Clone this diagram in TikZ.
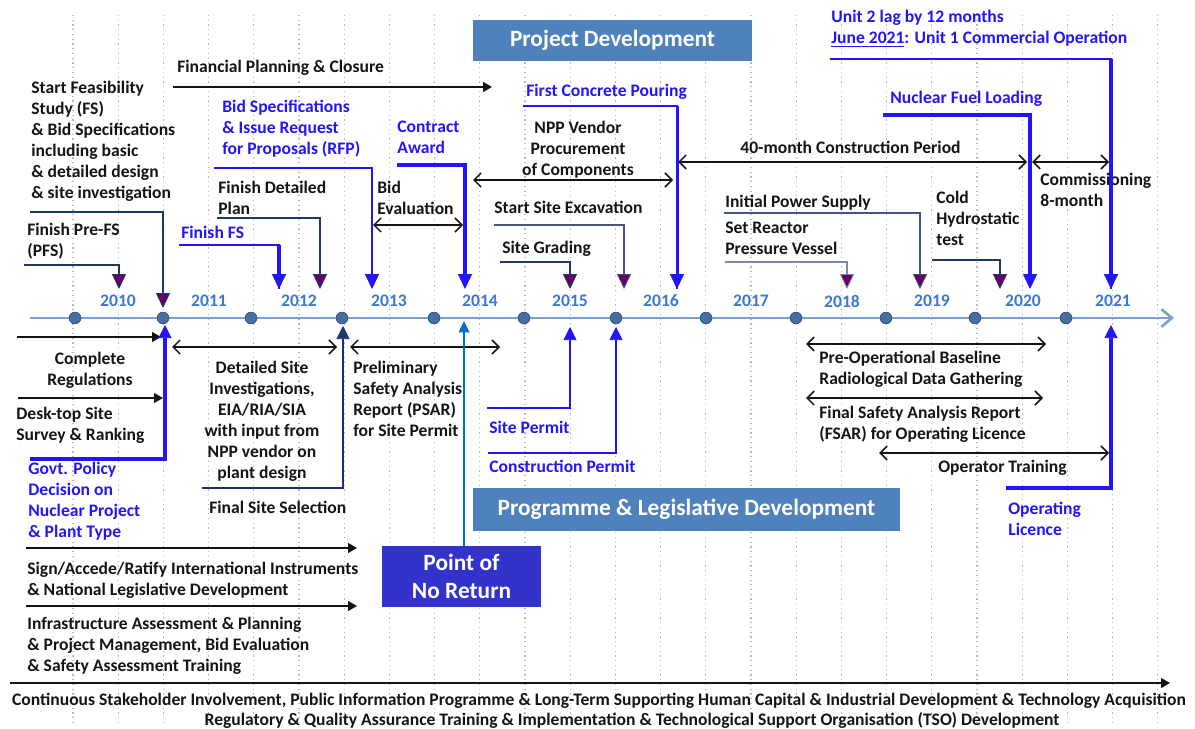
\documentclass[tikz,border=0pt]{standalone}
\usepackage{fontspec}
\setmainfont{Carlito}
\usetikzlibrary{arrows.meta}

\definecolor{ink}{RGB}{20,20,20}
\definecolor{mblue}{RGB}{35,20,250}
\definecolor{yearblue}{RGB}{60,120,210}
\definecolor{navy}{RGB}{31,56,100}
\definecolor{slate}{RGB}{70,85,130}
\definecolor{plum}{RGB}{102,0,102}
\definecolor{steel}{RGB}{79,129,189}
\definecolor{royal}{RGB}{51,51,204}
\definecolor{axisblue}{RGB}{120,160,210}
\definecolor{dotblue}{RGB}{70,110,160}
\definecolor{gridgray}{RGB}{185,185,185}
\definecolor{ponr}{RGB}{0,112,192}

\begin{document}
\begin{tikzpicture}[x=0.02cm, y=-0.02cm,
    txt/.style={font=\bfseries\fontsize{10}{11.9}\selectfont, inner sep=0pt, align=left, anchor=north west, text=ink},
    btxt/.style={txt, text=mblue},
    ctxt/.style={txt, align=center, anchor=north},
    yr/.style={font=\bfseries\fontsize{10}{12}\selectfont, text=yearblue, inner sep=0pt},
    banner/.style={fill=steel, text=white, font=\bfseries\fontsize{13.3}{16}\selectfont, inner sep=0pt, align=center},
    gridline/.style={draw=gridgray, dotted, line width=0.7pt},
    navyline/.style={draw=navy, line width=0.85pt},
    slateline/.style={draw=slate, line width=0.85pt},
    blueline/.style={draw=mblue, line width=#1},
    milestone/.style={-{Triangle[width=8pt,length=8.5pt,fill=#1,line width=0.5pt]}},
    upmark/.style={-{Triangle[width=7.5pt,length=7.5pt,fill=#1,line width=0.5pt]}},
    push/.style={draw=ink, line width=0.9pt, -{Triangle[width=5.5pt,length=5pt]}},
    span/.style={draw=ink, line width=0.9pt, {Straight Barb[width=8pt,length=4pt]}-{Straight Barb[width=8pt,length=4pt]}}]
    \useasboundingbox (0,0) rectangle (1195,729);

    \foreach \i in {0,...,24}
        \draw[gridline] ({73+45.2*\i},15) -- ({73+45.2*\i},722);

    \coordinate (axisL) at (30,318);
    \coordinate (axisR) at (1174,318);
    \draw[draw=axisblue, line width=1.5pt, -{Straight Barb[width=10pt,length=6pt]}] (axisL) -- (axisR);
    \foreach \x in {75,163,251,342,434,524,616,706,796,886,975,1066}
        \filldraw[fill=dotblue, draw=dotblue!80!black, line width=0.5pt] (\x,318) circle (3.3pt);
    \foreach \x/\yy in {118/2010,209/2011,299/2012,389/2013,480/2014,570/2015,661/2016,751/2017,842/2018,932/2019,1023/2020,1113/2021}
        \node[yr] (yr\yy) at (\x,301) {\yy};

    \node[banner, minimum width=5.58cm, minimum height=0.82cm] (projdev) at (612.5,40.5) {Project Development};
    \node[banner, minimum width=8.54cm, minimum height=0.86cm] (progdev) at (686.5,509.5) {Programme \& Legislative Development};
    \node[banner, fill=royal, minimum width=3.18cm, minimum height=1.22cm] (noreturn) at (461.5,576.5) {Point of\\No Return};

    \node[txt] (finplan) at (177,60) {Financial Planning \& Closure};
    \node[txt] (startfs) at (31,81) {Start Feasibility\\Study (FS)\\\& Bid Specifications\\including basic\\\& detailed design\\\& site investigation};
    \node[txt] (prefs) at (27,223) {Finish Pre-FS\\(PFS)};
    \node[btxt] (finfs) at (181,226) {Finish FS};
    \node[txt] (detplan) at (218,181) {Finish Detailed\\Plan};
    \node[btxt] (bidspec) at (222,100) {Bid Specifications\\\& Issue Request\\for Proposals (RFP)};
    \node[txt] (bideval) at (377,181) {Bid\\Evaluation};
    \node[btxt] (contract) at (397,121) {Contract\\Award};
    \node[ctxt] (vendor) at (578,121) {NPP Vendor\\Procurement\\of Components};
    \node[btxt] (concrete) at (526,84) {First Concrete Pouring};
    \node[txt] (excav) at (494,201) {Start Site Excavation};
    \node[txt] (grading) at (502,241) {Site Grading};
    \node[txt] (constr) at (740,141) {40-month Construction Period};
    \node[txt] (commis) at (1040,173) {Commissioning\\8-month};
    \node[txt] (power) at (725,195) {Initial Power Supply};
    \node[txt] (rpv) at (725,222) {Set Reactor\\Pressure Vessel};
    \node[txt] (cold) at (936,191) {Cold\\Hydrostatic\\test};
    \node[btxt] (fuel) at (890,91) {Nuclear Fuel Loading};
    \node[btxt] (unitop) at (831,10) {Unit 2 lag by 12 months\\\underline{June 2021}: Unit 1 Commercial Operation};

    \node[ctxt] (complete) at (90,352) {Complete\\Regulations};
    \node[txt] (desktop) at (16,407) {Desk-top Site\\Survey \& Ranking};
    \node[btxt] (govt) at (28,462) {Govt. Policy\\Decision on\\Nuclear Project\\\& Plant Type};
    \node[ctxt] (detsite) at (262,361) {Detailed Site\\Investigations,\\EIA/RIA/SIA\\with input from\\NPP vendor on\\plant design};
    \node[txt] (finalsite) at (209,501) {Final Site Selection};
    \node[txt] (psar) at (353,361) {Preliminary\\Safety Analysis\\Report (PSAR)\\for Site Permit};
    \node[btxt] (sitepermit) at (489,421) {Site Permit};
    \node[btxt] (conpermit) at (489,460) {Construction Permit};
    \node[txt] (baseline) at (819,351) {Pre-Operational Baseline\\Radiological Data Gathering};
    \node[txt] (fsar) at (819,406) {Final Safety Analysis Report\\(FSAR) for Operating Licence};
    \node[txt] (optrain) at (938,460) {Operator Training};
    \node[btxt] (oplic) at (1008,502) {Operating\\Licence};
    \node[txt] (treaty) at (27,562) {Sign/Accede/Ratify International Instruments\\\& National Legislative Development};
    \node[txt] (infra) at (27,617) {Infrastructure Assessment \& Planning\\\& Project Management, Bid Evaluation\\\& Safety Assessment Training};
    \node[ctxt] (stake) at (599,693) {Continuous Stakeholder Involvement, Public Information Programme \& Long-Term Supporting Human Capital \& Industrial Development \& Technology Acquisition};
    \node[ctxt] (tso) at (632,712) {Regulatory \& Quality Assurance Training \& Implementation \& Technological Support Organisation (TSO) Development};

    \coordinate (finL) at (173,87);   \coordinate (finR) at (492,87);
    \coordinate (sfsS) at (30,212);   \coordinate (sfsT) at (163,308);
    \coordinate (pfsS) at (24,265);   \coordinate (pfsT) at (119,289);
    \coordinate (ffsS) at (179,245);  \coordinate (ffsT) at (279,289);
    \coordinate (dplS) at (217,218);  \coordinate (dplT) at (320,289);
    \coordinate (rfpS) at (214,168);  \coordinate (rfpT) at (372,289);
    \coordinate (bevL) at (373,225);  \coordinate (bevR) at (463,225);
    \coordinate (conS) at (397,165);  \coordinate (conT) at (465,289);
    \coordinate (venL) at (473,180);  \coordinate (venR) at (673,180);
    \coordinate (fcpS) at (523,106);  \coordinate (fcpT) at (677,289);
    \coordinate (excS) at (494,225);  \coordinate (excT) at (624,289);
    \coordinate (grdS) at (500,262);  \coordinate (grdT) at (570,289);
    \coordinate (cnsL) at (678,162);  \coordinate (cnsR) at (1027,162);
    \coordinate (comL) at (1032,162); \coordinate (comR) at (1109,162);
    \coordinate (ipsS) at (724,213);  \coordinate (ipsT) at (920,289);
    \coordinate (rpvS) at (725,262);  \coordinate (rpvT) at (847,289);
    \coordinate (chtS) at (932,260);  \coordinate (chtT) at (1000,289);
    \coordinate (nflS) at (883,115);  \coordinate (nflT) at (1030,289);
    \coordinate (uopS) at (830,59);   \coordinate (uopT) at (1111,289);

    \draw[push] (finL) -- (finR);
    \draw[navyline, milestone=plum] (sfsS) -| (sfsT);
    \draw[navyline, milestone=plum] (pfsS) -| (pfsT);
    \draw[blueline=1.4pt] (ffsS) -| (ffsT);
    \draw[blueline=2.3pt, milestone=mblue] (ffsT |- ffsS) -- (ffsT);
    \draw[navyline, milestone=plum] (dplS) -| (dplT);
    \draw[blueline=1.1pt, milestone=mblue] (rfpS) -| (rfpT);
    \draw[span] (bevL) -- (bevR);
    \draw[blueline=1.8pt, milestone=mblue] (conS) -| (conT);
    \draw[span] (venL) -- (venR);
    \draw[blueline=0.9pt] (fcpS) -| (fcpT);
    \draw[blueline=1.7pt, milestone=mblue] (fcpT |- fcpS) -- (fcpT);
    \draw[slateline, milestone=plum] (excS) -| (excT);
    \draw[navyline, milestone=plum] (grdS) -| (grdT);
    \draw[span] (cnsL) -- (cnsR);
    \draw[span] (comL) -- (comR);
    \draw[slateline, milestone=plum] (ipsS) -| (ipsT);
    \draw[slateline, draw=slate!70, milestone=plum] (rpvS) -| (rpvT);
    \draw[navyline, milestone=plum] (chtS) -| (chtT);
    \draw[blueline=1.8pt, milestone=mblue] (nflS) -| (nflT);
    \draw[blueline=0.9pt] (uopS) -| (uopT);
    \draw[blueline=1.8pt, milestone=mblue] (uopT |- uopS) -- (uopT);

    \coordinate (crgL) at (17,337);   \coordinate (crgR) at (161,337);
    \coordinate (dtsL) at (18,398);   \coordinate (dtsR) at (163,398);
    \coordinate (gpdS) at (30,459);   \coordinate (gpdT) at (165,325);
    \coordinate (dsiL) at (172,347);  \coordinate (dsiR) at (337,347);
    \coordinate (fssS) at (202,488);  \coordinate (fssT) at (343,326);
    \coordinate (psaL) at (350,347);  \coordinate (psaR) at (500,347);
    \coordinate (pnrT) at (464,321);
    \coordinate (sprS) at (487,408);  \coordinate (sprT) at (570,327);
    \coordinate (cprS) at (488,453);  \coordinate (cprT) at (616,327);
    \coordinate (pobL) at (806,344);  \coordinate (pobR) at (1046,344);
    \coordinate (fsaL) at (806,398);  \coordinate (fsaR) at (1043,398);
    \coordinate (optL) at (879,453);  \coordinate (optR) at (1109,453);
    \coordinate (olcS) at (1006,488); \coordinate (olcT) at (1111,325);
    \coordinate (trtL) at (26,548);   \coordinate (trtR) at (357,548);
    \coordinate (infL) at (26,606);   \coordinate (infR) at (357,606);
    \coordinate (stkL) at (10,683);   \coordinate (stkR) at (1170,683);

    \draw[push] (crgL) -- (crgR);
    \draw[push] (dtsL) -- (dtsR);
    \draw[blueline=1.8pt, upmark=mblue] (gpdS) -| (gpdT);
    \draw[span] (dsiL) -- (dsiR);
    \draw[draw=navy!80!blue, line width=0.9pt, upmark=navy] (fssS) -| (fssT);
    \draw[span] (psaL) -- (psaR);
    \draw[draw=ponr, line width=1.2pt, -{Triangle[width=6pt,length=6.5pt]}] (pnrT |- noreturn.north) -- (pnrT);
    \draw[blueline=0.9pt, upmark=mblue] (sprS) -| (sprT);
    \draw[blueline=0.9pt, upmark=mblue] (cprS) -| (cprT);
    \draw[span] (pobL) -- (pobR);
    \draw[span] (fsaL) -- (fsaR);
    \draw[span] (optL) -- (optR);
    \draw[blueline=1.8pt, upmark=mblue] (olcS) -| (olcT);
    \draw[push] (trtL) -- (trtR);
    \draw[push] (infL) -- (infR);
    \draw[push] (stkL) -- (stkR);
\end{tikzpicture}
\end{document}
